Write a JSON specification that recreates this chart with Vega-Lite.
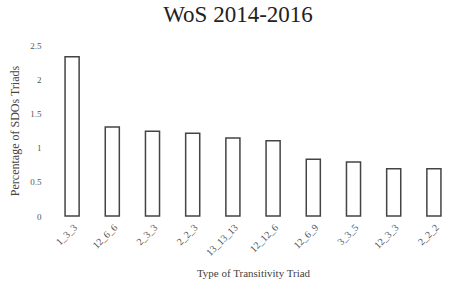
{
  "$schema": "https://vega.github.io/schema/vega-lite/v6.json",
  "width": 459,
  "height": 287,
  "autosize": {"type": "fit", "contains": "padding"},
  "padding": {"left": 8, "right": 6, "top": 4, "bottom": 8},
  "background": "white",
  "title": {"text": "WoS 2014-2016", "font": "Liberation Serif", "fontSize": 23, "fontWeight": "normal", "color": "#222", "offset": 14, "dx": -15},
  "data": {"values": [
    {"triad": "1_3_3", "pct": 2.33},
    {"triad": "12_6_6", "pct": 1.3},
    {"triad": "2_3_3", "pct": 1.24},
    {"triad": "2_2_3", "pct": 1.21},
    {"triad": "13_13_13", "pct": 1.14},
    {"triad": "12_12_6", "pct": 1.1},
    {"triad": "12_6_9", "pct": 0.83},
    {"triad": "3_3_5", "pct": 0.79},
    {"triad": "12_3_3", "pct": 0.69},
    {"triad": "2_2_2", "pct": 0.69}
  ]},
  "mark": {"type": "bar", "fill": "white", "stroke": "#444", "strokeWidth": 1.5},
  "encoding": {
    "x": {"field": "triad", "type": "nominal", "sort": null,
      "scale": {"paddingInner": 0.65, "paddingOuter": 0.3},
      "axis": {"title": "Type of Transitivity  Triad", "titleFont": "Liberation Serif", "titleFontSize": 11, "titleFontWeight": "normal", "titleColor": "#444",
        "labelFont": "Liberation Serif", "labelFontSize": 10, "labelColor": "#555", "labelAngle": -45, "domain": false, "ticks": false, "labelPadding": 6, "titlePadding": 10}},
    "y": {"field": "pct", "type": "quantitative",
      "scale": {"domain": [0, 2.5]},
      "axis": {"title": "Percentage of SDOs Triads", "titleFont": "Liberation Serif", "titleFontSize": 12, "titleFontWeight": "normal", "titleColor": "#444", "format": "~g",
        "labelFont": "Liberation Serif", "labelFontSize": 9, "labelColor": "#555", "values": [0, 0.5, 1, 1.5, 2, 2.5], "grid": false, "domain": false, "ticks": false, "labelPadding": 12, "titlePadding": 8}}
  },
  "config": {"view": {"stroke": null}}
}
